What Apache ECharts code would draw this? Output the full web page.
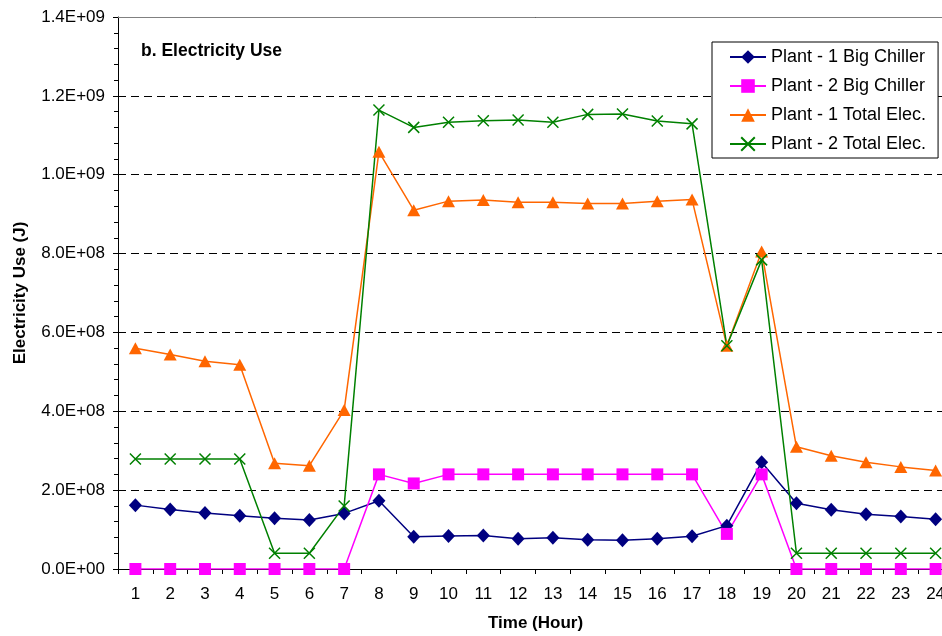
<!DOCTYPE html>
<html>
<head>
<meta charset="utf-8">
<script src="https://cdn.jsdelivr.net/npm/echarts@6/dist/echarts.min.js"></script>
<style>
  html, body { margin: 0; padding: 0; background: #fff; overflow: hidden; }
  /* the plot area runs a little past the right edge of the page */
  #chart { width: 960px; height: 636px; }
</style>
</head>
<body>
<div id="chart"></div>
<script>
// Hourly electricity use (J) for two plants
const hours = ['1','2','3','4','5','6','7','8','9','10','11','12','13','14','15','16','17','18','19','20','21','22','23','24'];

const plant1BigChiller = [162e6, 151e6, 142e6, 135e6, 129e6, 124e6, 141e6, 173e6, 82e6, 84e6, 85e6, 77e6,
                          79e6, 74e6, 73e6, 77e6, 83e6, 110e6, 271e6, 167e6, 150e6, 139e6, 133e6, 126e6];
const plant2BigChiller = [0, 0, 0, 0, 0, 0, 0, 240e6, 217e6, 240e6, 240e6, 240e6,
                          240e6, 240e6, 240e6, 240e6, 240e6, 89e6, 240e6, 0, 0, 0, 0, 0];
const plant1TotalElec = [560e6, 544e6, 527e6, 518e6, 268e6, 262e6, 403e6, 1058e6, 910e6, 933e6, 936e6, 930e6,
                         930e6, 927e6, 927e6, 933e6, 937e6, 566e6, 805e6, 310e6, 287e6, 271e6, 259e6, 250e6];
const plant2TotalElec = [279e6, 279e6, 279e6, 279e6, 40e6, 40e6, 160e6, 1164e6, 1120e6, 1133e6, 1137e6, 1139e6,
                         1133e6, 1153e6, 1154e6, 1136e6, 1129e6, 566e6, 784e6, 40e6, 40e6, 40e6, 40e6, 40e6];

const seriesNames = ['Plant - 1 Big Chiller', 'Plant - 2 Big Chiller', 'Plant - 1 Total Elec.', 'Plant - 2 Total Elec.'];

const FONT = 'Liberation Sans, Arial, sans-serif';

function sci(v) {
  if (v === 0) return '0.0E+00';
  const e = Math.floor(Math.log10(Math.abs(v)) + 1e-9);
  const m = v / Math.pow(10, e);
  return m.toFixed(1) + 'E' + (e < 0 ? '-' : '+') + String(Math.abs(e)).padStart(2, '0');
}

const crossPath = 'path://M0,0L10,10M0,10L10,0';

const chart = echarts.init(document.getElementById('chart'), null, { renderer: 'canvas' });

chart.setOption({
  backgroundColor: '#ffffff',
  animation: false,
  textStyle: { fontFamily: FONT },
  title: {
    text: 'b. Electricity Use',
    left: 141,
    top: 42,
    padding: 0,
    textStyle: { fontFamily: FONT, fontSize: 17.5, fontWeight: 'bold', color: '#000' }
  },
  legend: {
    orient: 'vertical',
    left: 712,
    top: 42,
    padding: [6, 12, 5, 17],
    itemGap: 11,
    itemWidth: 36,
    itemHeight: 17,
    backgroundColor: '#fff',
    borderColor: '#000',
    borderWidth: 1,
    textStyle: { fontFamily: FONT, fontSize: 18, color: '#000' },
    data: seriesNames
  },
  grid: { left: 118, top: 17, width: 835, height: 552, containLabel: false, outerBoundsMode: 'none' },
  xAxis: [{
    type: 'category',
    data: hours,
    boundaryGap: true,
    name: 'Time (Hour)',
    nameLocation: 'middle',
    nameGap: 46,
    nameTextStyle: { fontFamily: FONT, fontSize: 17, fontWeight: 'bold', color: '#000' },
    axisLine: { show: true, onZero: false, lineStyle: { color: '#000', width: 1 } },
    axisTick: { show: true, inside: false, length: 5, alignWithLabel: false, lineStyle: { color: '#000' } },
    axisLabel: { fontFamily: FONT, fontSize: 17, color: '#000', margin: 17, interval: 0 },
    splitLine: { show: false }
  }, {
    type: 'category',
    data: hours,
    position: 'top',
    axisLine: { show: true, onZero: false, lineStyle: { color: '#808080', width: 1 } },
    axisTick: { show: false },
    axisLabel: { show: false },
    splitLine: { show: false }
  }],
  yAxis: {
    type: 'value',
    min: 0,
    max: 1.4e9,
    interval: 2e8,
    name: 'Electricity Use (J)',
    nameLocation: 'middle',
    nameGap: 89,
    nameRotate: 90,
    nameTextStyle: { fontFamily: FONT, fontSize: 17, fontWeight: 'bold', color: '#000' },
    axisLine: { show: true, lineStyle: { color: '#000', width: 1 } },
    axisTick: { show: true, inside: false, length: 5, lineStyle: { color: '#000' } },
    minorTick: { show: true, splitNumber: 5, length: 4, lineStyle: { color: '#000' } },
    axisLabel: { fontFamily: FONT, fontSize: 17, color: '#000', margin: 13, formatter: sci },
    splitLine: { show: true, lineStyle: { color: '#000', width: 1, type: [8, 5] } }
  },
  series: [
    {
      name: seriesNames[0],
      type: 'line',
      data: plant1BigChiller,
      symbol: 'diamond',
      symbolSize: [13, 14],
      lineStyle: { color: '#000080', width: 1.5 },
      itemStyle: { color: '#000080' }
    },
    {
      name: seriesNames[1],
      type: 'line',
      data: plant2BigChiller,
      symbol: 'rect',
      symbolSize: 12,
      lineStyle: { color: '#FF00FF', width: 1.5 },
      itemStyle: { color: '#FF00FF' }
    },
    {
      name: seriesNames[2],
      type: 'line',
      data: plant1TotalElec,
      symbol: 'triangle',
      symbolSize: [13, 12],
      lineStyle: { color: '#FF6600', width: 1.5 },
      itemStyle: { color: '#FF6600' }
    },
    {
      name: seriesNames[3],
      type: 'line',
      data: plant2TotalElec,
      symbol: crossPath,
      symbolSize: 11,
      lineStyle: { color: '#008000', width: 1.5 },
      itemStyle: { color: 'rgba(0,0,0,0)', borderColor: '#008000', borderWidth: 1.5 }
    }
  ]
});
</script>
</body>
</html>
